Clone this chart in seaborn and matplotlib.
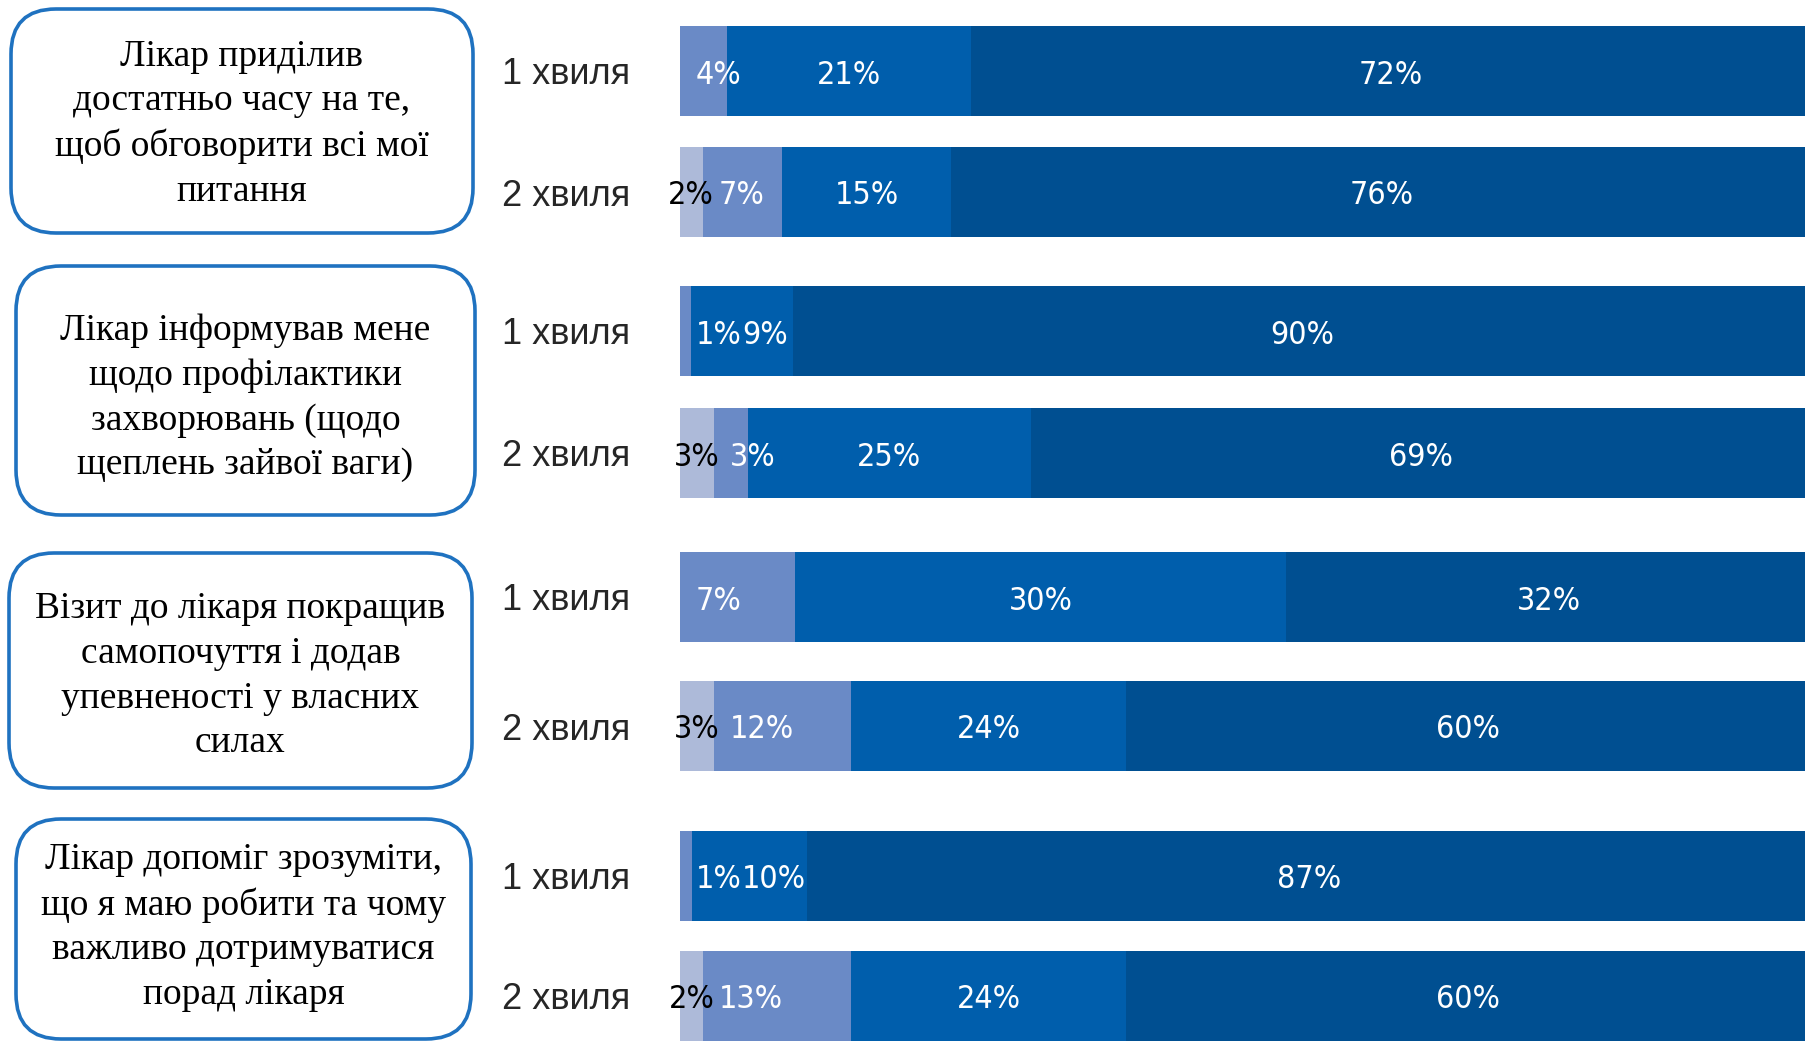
import matplotlib
matplotlib.use("Agg")
import numpy as np
import pandas as pd
import matplotlib.pyplot as plt
import matplotlib.transforms as mtransforms
import seaborn as sns
from matplotlib.patches import FancyBboxPatch
from matplotlib import font_manager
from matplotlib.font_manager import FontProperties

sns.set_style("white")

questions = [
    "Лікар приділив\nдостатньо часу на те,\nщоб обговорити всі мої\nпитання",
    "Лікар інформував мене\nщодо профілактики\nзахворювань (щодо\nщеплень зайвої ваги)",
    "Візит до лікаря покращив\nсамопочуття і додав\nупевненості у власних\nсилах",
    "Лікар допоміг зрозуміти,\nщо я маю робити та чому\nважливо дотримуватися\nпорад лікаря",
]
waves = ["1 хвиля", "2 хвиля"]

# answer shares (%) per bar, order: q1w1, q1w2, q2w1, q2w2, ...  lightest -> darkest
seg1 = [0, 2, 0, 3, 0, 3, 0, 2]
seg2 = [4, 7, 1, 3, 7, 12, 1, 13]
seg3 = [21, 15, 9, 25, 30, 24, 10, 24]
seg4 = [72, 76, 90, 69, 32, 60, 87, 60]
seg_colors = ["#adbad9", "#6a8ac6", "#005eac", "#004f91"]
label_colors = ["black", "white", "white", "white"]

segs = [seg1, seg2, seg3, seg4]
df = pd.DataFrame({
    "q": np.repeat(np.arange(len(questions)), len(waves)),
    "wave": waves * len(questions),
})
for k, s in enumerate(segs):
    df[f"v{k}"] = s
total = df[[f"v{k}" for k in range(4)]].sum(axis=1)
left = np.zeros(len(df))
for k in range(4):
    df[f"w{k}"] = df[f"v{k}"] / total * 100  # 100% stacked
    df[f"l{k}"] = left
    left = left + df[f"w{k}"].values

# narrow sans for the value labels if there is one
narrow_files = [f.fname for f in font_manager.fontManager.ttflist
                if ("Narrow" in f.name or "Condensed" in f.name or "Condensed" in f.fname)
                and f.weight in (400, "normal", "regular") and f.style == "normal"]
if narrow_files:
    lab_font = FontProperties(fname=sorted(narrow_files)[0], size=23)
else:
    lab_font = FontProperties(family="Liberation Sans", size=22)

W, H = 1806, 1048
fig = plt.figure(figsize=(W / 100, H / 100), dpi=100)

# overlay in pixel units for the rounded boxes
bg = fig.add_axes([0, 0, 1, 1])
bg.set_xlim(0, W)
bg.set_ylim(H, 0)
bg.axis("off")

boxes = [(11, 9, 473, 233), (16, 266, 475, 515), (9, 553, 472, 788), (16, 819, 471, 1039)]
text_y = [124, 398, 676, 927]
for (x0, y0, x1, y1), ty, q in zip(boxes, text_y, questions):
    bg.add_patch(FancyBboxPatch((x0, y0), x1 - x0, y1 - y0,
                                boxstyle="round,pad=0,rounding_size=45",
                                fc="white", ec="#1f72c0", lw=2.6))
    bg.text((x0 + x1) / 2, ty, q, ha="center", va="center", fontsize=27,
            family="Liberation Serif", linespacing=1.38, color="black")

# bar groups: centre of first / second wave bar in pixels
c1s = [71, 331, 597, 876]
c2s = [192, 453, 726, 996]
ax_left, ax_right = 680, 1811

renderer = fig.canvas.get_renderer()
for g in range(len(questions)):
    u = c2s[g] - c1s[g]
    top, bot = c1s[g] - u / 2, c2s[g] + u / 2
    ax = fig.add_axes([ax_left / W, 1 - bot / H, (ax_right - ax_left) / W, (bot - top) / H])
    sub = df[df["q"] == g].reset_index(drop=True)
    for k in range(4):
        sns.barplot(data=sub, x=f"w{k}", y="wave", order=waves, color=seg_colors[k],
                    saturation=1, width=90 / u, errorbar=None, linewidth=0,
                    left=sub[f"l{k}"].values, ax=ax)
    ax.set_xlim(0, 100)
    ax.set_ylim(1.5, -0.5)
    sns.despine(ax=ax, left=True, bottom=True)
    ax.set_xticks([])
    ax.set_xlabel("")
    ax.set_ylabel("")
    ax.tick_params(axis="y", length=0, pad=36, labelsize=26)
    for t in ax.get_yticklabels():
        t.set_family("Liberation Sans")

    for i, row in sub.iterrows():
        prev = None
        for k in range(4):
            v = row[f"v{k}"]
            if v <= 0:
                continue
            l, w = row[f"l{k}"], row[f"w{k}"]
            if k == 1:
                tr = mtransforms.offset_copy(ax.transData, fig=fig, x=16, y=-4, units="dots")
                t = ax.text(l, i, f"{v}%", ha="left", va="center", transform=tr)
            else:
                tr = mtransforms.offset_copy(ax.transData, fig=fig, x=0, y=-4, units="dots")
                t = ax.text(l + w / 2, i, f"{v}%", ha="center", va="center", transform=tr)
            t.set_color(label_colors[k])
            t.set_fontproperties(lab_font)
            if k == 2 and prev is not None:
                pb = prev.get_window_extent(renderer)
                tb = t.get_window_extent(renderer)
                if tb.x0 < pb.x1:
                    dx = (pb.x1 - tb.x0) / fig.dpi
                    t.set_transform(tr + mtransforms.ScaledTranslation(dx, 0, fig.dpi_scale_trans))
            prev = t

fig.savefig("out.png", dpi=100)
